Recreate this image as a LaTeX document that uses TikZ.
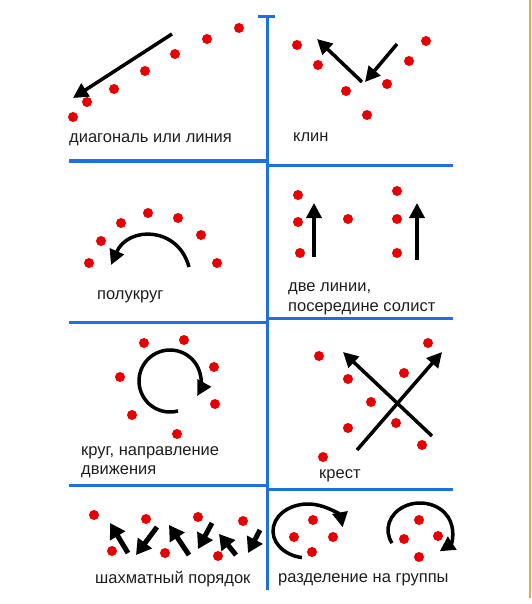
\documentclass[tikz,border=0pt]{standalone}
\usepackage{fontspec}
\setmainfont{Liberation Sans}
\usetikzlibrary{arrows.meta}
\definecolor{dotred}{RGB}{232,0,0}
\definecolor{gridblue}{RGB}{30,112,222}
\definecolor{edgeorange}{RGB}{222,168,84}
\definecolor{txt}{RGB}{30,30,30}
\tikzset{
  dot/.style={fill=dotred},
  grid/.style={draw=gridblue,line width=3pt},
  arr/.style={draw=black,line width=3.5pt,-{Triangle[length=15pt,width=15pt]}},
  bigarr/.style={draw=black,line width=5pt,-{Triangle[length=15pt,width=17pt]}},
  lbl/.style={anchor=west,inner sep=0pt,text=txt,font=\fontsize{16.5}{19.5}\selectfont,align=left},
}
\begin{document}
\begin{tikzpicture}[x=1pt,y=-1pt]
\useasboundingbox (0,0) rectangle (531,604);
% frame lines
\draw[edgeorange,line width=1.3pt] (530,0) -- (530,598);
\draw[grid] (258,17) -- (275,17);
\draw[grid] (267,17) -- (267,590);
\draw[grid] (69,161) -- (267,161);
\draw[grid] (267,165) -- (453,165);
\draw[grid] (69,322) -- (267,322);
\draw[grid] (267,318) -- (453,318);
\draw[grid] (69,485) -- (267,485);
\draw[grid] (267,489) -- (453,489);
% panel 1: diagonal
\foreach \p in {(239,28),(207,39),(175,54),(145,71),(114,89),(87,102),(73,117)}
  \fill[dot] \p circle[radius=5];
\coordinate (a1s) at (172,34); \coordinate (a1e) at (73,98);
\draw[arr] (a1s) -- (a1e);
\node[lbl] (t1) at (69,140) {диагональ или линия};
% panel 2: wedge
\foreach \p in {(297,45),(318,65),(346,91),(367,115),(387,84),(409,61),(426,41)}
  \fill[dot] \p circle[radius=5];
\coordinate (a2s) at (362,82); \coordinate (a2e) at (317,39);
\coordinate (a3s) at (397,44); \coordinate (a3e) at (365,82);
\draw[arr] (a2s) -- (a2e);
\draw[arr] (a3s) -- (a3e);
\node[lbl] (t2) at (293,137) {клин};
% panel 3: half circle
\foreach \p in {(89,263),(101,241),(121,223),(148,213),(178,218),(201,235),(217,263)}
  \fill[dot] \p circle[radius=5];
\coordinate (a4s) at (189,267); \coordinate (a4e) at (111,265);
\draw[arr] (a4s) .. controls (178,226) and (128,226) .. (a4e);
\node[lbl] (t3) at (97,297) {полукруг};
% panel 4: two lines
\foreach \p in {(298,195),(298,222),(300,253),(348,219),(397,191),(397,219),(397,253)}
  \fill[dot] \p circle[radius=5];
\coordinate (a5s) at (314,257); \coordinate (a5e) at (314,203);
\coordinate (a6s) at (417,260); \coordinate (a6e) at (417,203);
\draw[arr] (a5s) -- (a5e);
\draw[arr] (a6s) -- (a6e);
\node[lbl] (t4) at (288,299) {две линии,\\посередине солист};
% panel 5: circle
\foreach \p in {(144,343),(184,340),(214,367),(215,404),(177,434),(132,415),(120,377)}
  \fill[dot] \p circle[radius=5];
\coordinate (c5) at (170,381);
\draw[arr] ([shift={(75:31)}]c5) arc[start angle=75,end angle=389,radius=31];
\node[lbl] (t5) at (81,462) {круг, направление\\движения};
% panel 6: cross
\foreach \p in {(319,356),(348,379),(371,402),(348,428),(323,457),(404,373),(428,343),(396,423),(422,445)}
  \fill[dot] \p circle[radius=5];
\coordinate (a7s) at (357,450); \coordinate (a7e) at (442,352);
\coordinate (a8s) at (432,436); \coordinate (a8e) at (343,352);
\draw[arr] (a7s) -- (a7e);
\draw[arr] (a8s) -- (a8e);
\node[lbl] (t6) at (319,476) {крест};
% panel 7: chess order
\foreach \p in {(94,515),(146,519),(198,517),(243,521),(112,551),(165,553),(218,556)}
  \fill[dot] \p circle[radius=5];
\coordinate (b1s) at (128,553); \coordinate (b1e) at (110,523);
\coordinate (b2s) at (157,527); \coordinate (b2e) at (136,555);
\coordinate (b3s) at (189,555); \coordinate (b3e) at (169,525);
\coordinate (b4s) at (212,523); \coordinate (b4e) at (198,549);
\coordinate (b5s) at (236,555); \coordinate (b5e) at (219,534);
\coordinate (b6s) at (260,530); \coordinate (b6e) at (248,553);
\foreach \i in {1,...,6} \draw[bigarr] (b\i s) -- (b\i e);
\node[lbl] (t7) at (95,579) {шахматный порядок};
% panel 8: groups
\foreach \p in {(313,520),(294,537),(333,537),(312,552),(419,520),(404,539),(438,536),(419,557)}
  \fill[dot] \p circle[radius=5];
\coordinate (g1) at (308,531);
\coordinate (g2) at (420,530);
\draw[arr] ([shift={(100:35 and 27)}]g1) arc[start angle=100,end angle=352,x radius=35,y radius=27];
\draw[arr] ([shift={(151:32 and 27)}]g2) arc[start angle=151,end angle=412,x radius=32,y radius=27];
\node[lbl] (t8) at (278,580) {разделение на группы};
\end{tikzpicture}
\end{document}
